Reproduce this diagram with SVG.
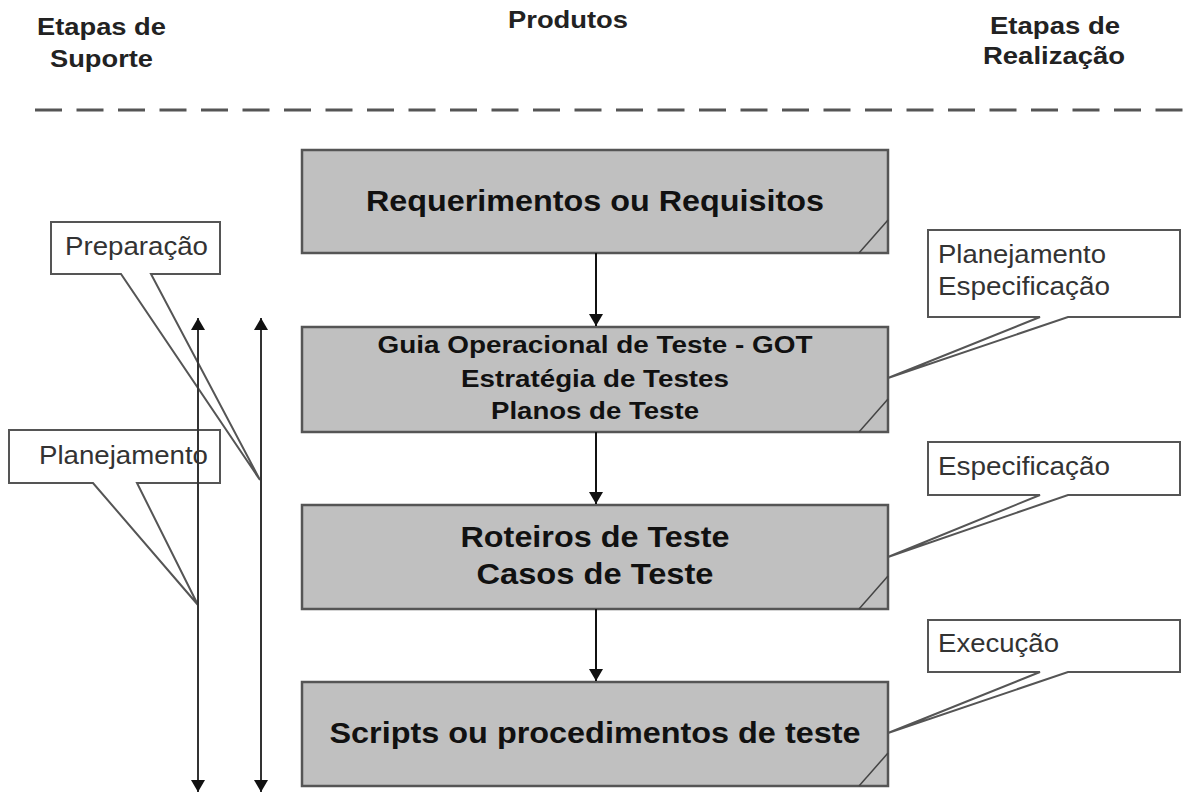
<svg xmlns="http://www.w3.org/2000/svg" width="1184" height="796" viewBox="0 0 1184 796">
<defs>
<style>
.hdr{font-family:"Liberation Sans",Arial,sans-serif;font-weight:bold;font-size:24px;fill:#222}
.box{fill:#c0c0c0;stroke:#555;stroke-width:2.5}
.corner{fill:none;stroke:#444;stroke-width:1.5}
.btxt{font-family:"Liberation Sans",Arial,sans-serif;font-weight:bold;fill:#111;text-anchor:middle}
.call{fill:#fff;stroke:#555;stroke-width:2}
.ctxt{font-family:"Liberation Sans",Arial,sans-serif;font-size:25px;fill:#333}
.conn{fill:none;stroke:#111;stroke-width:2}
.vline{fill:none;stroke:#333;stroke-width:2}
</style>
<marker id="ah" viewBox="0 0 12 14" refX="12" refY="7" markerWidth="12" markerHeight="14" markerUnits="userSpaceOnUse" orient="auto-start-reverse">
<path d="M0,0 L12,7 L0,14 Z" fill="#111"/>
</marker>
</defs>
<rect width="1184" height="796" fill="#fff"/>

<g id="headers">
<text class="hdr" x="37" y="35" textLength="129" lengthAdjust="spacingAndGlyphs">Etapas de</text>
<text class="hdr" x="50" y="67" textLength="103" lengthAdjust="spacingAndGlyphs">Suporte</text>
<text class="hdr" x="508" y="28" textLength="120" lengthAdjust="spacingAndGlyphs">Produtos</text>
<text class="hdr" x="990" y="34" textLength="130" lengthAdjust="spacingAndGlyphs">Etapas de</text>
<text class="hdr" x="983" y="64" textLength="142" lengthAdjust="spacingAndGlyphs">Realização</text>
</g>

<line id="divider" x1="35" y1="110" x2="1184" y2="110" stroke="#555" stroke-width="3" stroke-dasharray="27 14.5"/>

<g id="node-requisitos">
<rect class="box" x="302" y="150" width="586" height="103"/>
<path class="corner" d="M859,253 L888,220"/>
<text class="btxt" x="595" y="211" font-size="29" textLength="458" lengthAdjust="spacingAndGlyphs">Requerimentos ou Requisitos</text>
</g>

<g id="node-got">
<rect class="box" x="302" y="327" width="586" height="105"/>
<path class="corner" d="M859,432 L888,399"/>
<text class="btxt" x="595" y="353" font-size="23" textLength="435" lengthAdjust="spacingAndGlyphs">Guia Operacional de Teste - GOT</text>
<text class="btxt" x="595" y="387" font-size="23" textLength="268" lengthAdjust="spacingAndGlyphs">Estratégia de Testes</text>
<text class="btxt" x="595" y="419" font-size="23" textLength="208" lengthAdjust="spacingAndGlyphs">Planos de Teste</text>
</g>

<g id="node-roteiros">
<rect class="box" x="302" y="505" width="586" height="104"/>
<path class="corner" d="M859,609 L888,576"/>
<text class="btxt" x="595" y="547" font-size="29" textLength="269" lengthAdjust="spacingAndGlyphs">Roteiros de Teste</text>
<text class="btxt" x="595" y="584" font-size="29" textLength="237" lengthAdjust="spacingAndGlyphs">Casos de Teste</text>
</g>

<g id="node-scripts">
<rect class="box" x="302" y="682" width="586" height="104"/>
<path class="corner" d="M859,786 L888,753"/>
<text class="btxt" x="595" y="743" font-size="30" textLength="531" lengthAdjust="spacingAndGlyphs">Scripts ou procedimentos de teste</text>
</g>

<g id="callout-preparacao">
<path class="call" d="M51,222 H220 V274 H151 L260,480 L121,274 H51 Z"/>
<text class="ctxt" x="65" y="255" textLength="143" lengthAdjust="spacingAndGlyphs">Preparação</text>
</g>

<g id="callout-planejamento-left">
<path class="call" d="M9,430 H220 V483 H137 L198,605 L93,483 H9 Z"/>
<text class="ctxt" x="39" y="464" textLength="169" lengthAdjust="spacingAndGlyphs">Planejamento</text>
</g>

<g id="callout-plan-espec">
<path class="call" d="M928,230 H1180 V317 H1068 L888,378 L1040,317 H928 Z"/>
<text class="ctxt" x="938" y="263" textLength="168" lengthAdjust="spacingAndGlyphs">Planejamento</text>
<text class="ctxt" x="938" y="295" textLength="172" lengthAdjust="spacingAndGlyphs">Especificação</text>
</g>

<g id="callout-especificacao">
<path class="call" d="M928,442 H1180 V495 H1068 L888,557 L1040,495 H928 Z"/>
<text class="ctxt" x="938" y="475" textLength="172" lengthAdjust="spacingAndGlyphs">Especificação</text>
</g>

<g id="callout-execucao">
<path class="call" d="M928,620 H1180 V672 H1068 L888,733 L1040,672 H928 Z"/>
<text class="ctxt" x="938" y="652" textLength="121" lengthAdjust="spacingAndGlyphs">Execução</text>
</g>

<g id="connectors">
<line class="conn" x1="596" y1="253" x2="596" y2="326" marker-end="url(#ah)"/>
<line class="conn" x1="596" y1="432" x2="596" y2="504" marker-end="url(#ah)"/>
<line class="conn" x1="596" y1="609" x2="596" y2="681" marker-end="url(#ah)"/>
<line class="vline" x1="198" y1="318" x2="198" y2="792" marker-start="url(#ah)" marker-end="url(#ah)"/>
<line class="vline" x1="261" y1="318" x2="261" y2="792" marker-start="url(#ah)" marker-end="url(#ah)"/>
</g>
</svg>
